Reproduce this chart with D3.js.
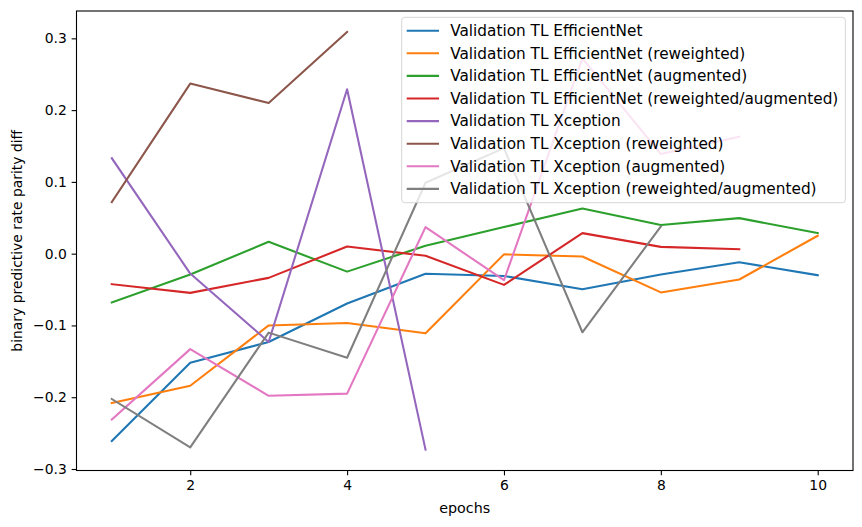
<!DOCTYPE html>
<html>
<head>
<meta charset="utf-8">
<script src="https://cdn.jsdelivr.net/npm/d3@7"></script>
<style>
  body { margin: 0; background: #fff; }
  svg { font-family: 'DejaVu Sans', sans-serif; }
  .axis path, .axis line { stroke: #000; stroke-width: 1.1; }
  .axis text { font-size: 13.9px; fill: #000; font-family: 'DejaVu Sans', sans-serif; }
</style>
</head>
<body>
<div id="chart"></div>
<script>
// values
let epochs = [1, 2, 3, 4, 5, 6, 7, 8, 9, 10]
let effNet = [-0.261, -0.152, -0.123, -0.0695, -0.028, -0.031, -0.0495, -0.029, -0.012, -0.030]
let effNetRew = [-0.208, -0.184, -0.100, -0.0965, -0.111, -0.001, -0.004, -0.054, -0.036, 0.025]
let effNetAug = [-0.068, -0.029, 0.0165, -0.025, 0.011, 0.037, 0.063, 0.040, 0.0495, 0.0286]
let effNetRewAug = [-0.0425, -0.0546, -0.0337, 0.010, -0.003, -0.0435, 0.0286, 0.0095, 0.0063]
let xcep = [0.133, -0.0277, -0.123, 0.229, -0.273]
let xcepRew = [0.0718, 0.237, 0.210, 0.309]
let xcepAug = [-0.231, -0.133, -0.198, -0.195, 0.037, -0.037, 0.272, 0.139, 0.163]
let xcepRewAug = [-0.2025, -0.270, -0.110, -0.145, 0.0988, 0.147, -0.1095, 0.038]

let labels = [
    'Validation TL EfficientNet',
    'Validation TL EfficientNet (reweighted)',
    'Validation TL EfficientNet (augmented)',
    'Validation TL EfficientNet (reweighted/augmented)',
    'Validation TL Xception',
    'Validation TL Xception (reweighted)',
    'Validation TL Xception (augmented)',
    'Validation TL Xception (reweighted/augmented)'
]
let colors = ['#1f77b4', '#ff7f0e', '#2ca02c', '#d62728', '#9467bd', '#8c564b', '#e377c2', '#7f7f7f']
let xTicks = [2, 4, 6, 8, 10]
let yTicks = [-0.3, -0.2, -0.1, 0.0, 0.1, 0.2, 0.3]

let series = [effNet, effNetRew, effNetAug, effNetRewAug, xcep, xcepRew, xcepAug, xcepRewAug]
    .map((vals, i) => ({
        name: labels[i],
        color: colors[i],
        points: vals.map((v, j) => ({ epoch: epochs[j], value: v }))
    }))

let w = 862,
    h = 527,
    mLeft = 76.5,
    mRight = 853,
    mTop = 11,
    mBottom = 470.5

// matplotlib-like 5% margins
let allVals = series.flatMap(s => s.points.map(p => p.value))
let yMin = d3.min(allVals), yMax = d3.max(allVals)
let yPad = (yMax - yMin) * 0.05
let xPad = (d3.max(epochs) - d3.min(epochs)) * 0.05

let xScale = d3.scaleLinear()
    .domain([d3.min(epochs) - xPad, d3.max(epochs) + xPad])
    .range([mLeft, mRight])
let yScale = d3.scaleLinear()
    .domain([yMin - yPad, yMax + yPad])
    .range([mBottom, mTop])

let svg = d3.select('#chart')
    .append('svg')
    .attr('width', w)
    .attr('height', h)

let line = d3.line()
    .x(d => xScale(d.epoch))
    .y(d => yScale(d.value))

svg.selectAll('path.series')
    .data(series)
    .enter()
    .append('path')
    .attr('class', 'series')
    .attr('d', d => line(d.points))
    .attr('stroke', d => d.color)
    .attr('stroke-width', 2.08)
    .attr('fill', 'none')
    .attr('stroke-linejoin', 'round')
    .attr('stroke-linecap', 'square')

// axes
let xAxis = d3.axisBottom(xScale).tickValues(xTicks).tickFormat(d3.format('d'))
    .tickSizeInner(4.86).tickSizeOuter(0).tickPadding(4.86)
let yAxis = d3.axisLeft(yScale).tickValues(yTicks).tickFormat(d3.format('.1f'))
    .tickSizeInner(4.86).tickSizeOuter(0).tickPadding(4.86)

svg.append('g')
    .attr('class', 'axis')
    .attr('transform', `translate(0,${mBottom})`)
    .call(xAxis)
    .select('.domain').remove()
svg.append('g')
    .attr('class', 'axis')
    .attr('transform', `translate(${mLeft},0)`)
    .call(yAxis)
    .select('.domain').remove()

// frame
svg.append('rect')
    .attr('x', mLeft)
    .attr('y', mTop)
    .attr('width', mRight - mLeft)
    .attr('height', mBottom - mTop)
    .attr('fill', 'none')
    .attr('stroke', '#000')
    .attr('stroke-width', 1.1)

svg.append('text')
    .text('epochs')
    .attr('x', (mLeft + mRight) / 2)
    .attr('y', 513)
    .attr('text-anchor', 'middle')
    .attr('font-size', 14.3)

svg.append('text')
    .text('binary predictive rate parity diff')
    .attr('transform', `translate(22,${(mTop + mBottom) / 2}) rotate(-90)`)
    .attr('text-anchor', 'middle')
    .attr('font-size', 13.9)

// legend
let lg = svg.append('g').attr('transform', 'translate(401.7,17.3)')
lg.append('rect')
    .attr('width', 443.6)
    .attr('height', 185.4)
    .attr('rx', 3)
    .attr('fill', 'rgba(255,255,255,0.8)')
    .attr('stroke', '#d6d6d6')
    .attr('stroke-width', 1)

let rows = lg.selectAll('g.row')
    .data(series)
    .enter()
    .append('g')
    .attr('class', 'row')
    .attr('transform', (d, i) => `translate(0,${13.4 + i * 22.6})`)
rows.append('line')
    .attr('x1', 5)
    .attr('x2', 37.3)
    .attr('stroke', d => d.color)
    .attr('stroke-width', 2.08)
rows.append('text')
    .text(d => d.name)
    .attr('x', 48.5)
    .attr('dy', '0.35em')
    .attr('font-size', 15.3)
</script>
</body>
</html>
